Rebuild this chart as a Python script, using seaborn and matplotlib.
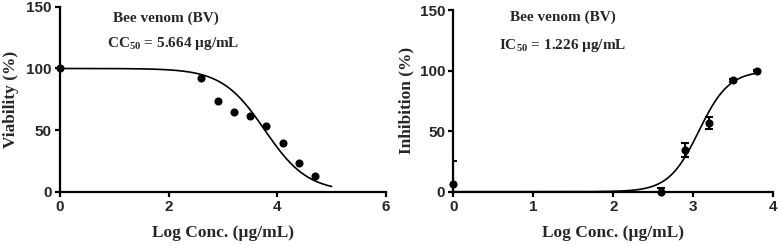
import numpy as np
import pandas as pd
import matplotlib
matplotlib.use("Agg")
import matplotlib.pyplot as plt
import seaborn as sns

# ---------------- data ----------------
# left: cytotoxicity (viability)
via_logc = [0.0, 2.6, 2.9, 3.2, 3.5, 3.8, 4.1, 4.4, 4.7]
via_pct = [100.0, 92.0, 74.0, 65.0, 61.5, 53.5, 39.5, 23.5, 12.5]
# fitted 4PL curve
via_top, via_bottom, via_logec50, via_hill = 100.0, 0.0, 3.77, 1.1
via_curve_range = (0.0, 5.0)

# right: inhibition
inh_logc = [0.0, 2.6, 2.9, 3.2, 3.5, 3.8]
inh_pct = [6.5, 0.0, 34.5, 57.0, 92.0, 100.0]
inh_err = [18.5, 3.0, 6.0, 5.0, 1.0, 0.5]
inh_top, inh_bottom, inh_logec50, inh_hill = 100.0, 0.0, 3.07, 2.3
inh_curve_range = (0.0, 3.8)

cc50_text = r"CC$_{50}$ = 5.664 µg/mL"
ic50_text = r"IC$_{50}$ = 1.226 µg/mL"
title_text = "Bee venom (BV)"


def four_pl(x, top, bottom, logec50, hill, rising):
    s = hill if rising else -hill
    return bottom + (top - bottom) / (1 + 10 ** ((logec50 - x) * s))


sns.set_style("ticks")
plt.rcParams["font.family"] = ["Liberation Sans", "DejaVu Sans"]
plt.rcParams["mathtext.fontset"] = "custom"
plt.rcParams["mathtext.rm"] = "Liberation Serif:bold"
plt.rcParams["mathtext.it"] = "Liberation Serif:bold"
plt.rcParams["mathtext.bf"] = "Liberation Serif:bold"

serif = {"family": "Liberation Serif", "weight": "bold"}

fig = plt.figure(figsize=(7.79, 2.45), dpi=100)
ax1 = fig.add_axes([0.077, 0.2175, 0.4185, 0.7545])
ax2 = fig.add_axes([0.582, 0.2175, 0.4105, 0.7415])

# ---- left panel ----
xc = np.linspace(*via_curve_range, 300)
curve1 = pd.DataFrame({"x": xc, "y": four_pl(xc, via_top, via_bottom, via_logec50, via_hill, False)})
sns.lineplot(data=curve1, x="x", y="y", ax=ax1, color="black", linewidth=1.2)
pts1 = pd.DataFrame({"x": via_logc, "y": via_pct})
sns.scatterplot(data=pts1, x="x", y="y", ax=ax1, color="black", s=34,
                edgecolor="black", linewidth=0, clip_on=False, zorder=5)
ax1.set_xlim(0, 6)
ax1.set_ylim(0, 150)
ax1.set_xticks([0, 2, 4, 6])
ax1.set_yticks([0, 50, 100, 150])
ax1.set_xlabel("Log Conc. (µg/mL)", fontdict=serif, fontsize=12.5, labelpad=8)
ax1.set_ylabel("Viability (%)", fontdict=serif, fontsize=12.5, labelpad=5)
ax1.text(1.95, 141, title_text, ha="center", va="center", fontdict=serif, fontsize=11)
ax1.text(2.08, 120, cc50_text, ha="center", va="center", fontdict=serif, fontsize=11)

# ---- right panel ----
xc2 = np.linspace(*inh_curve_range, 300)
curve2 = pd.DataFrame({"x": xc2, "y": four_pl(xc2, inh_top, inh_bottom, inh_logec50, inh_hill, True)})
sns.lineplot(data=curve2, x="x", y="y", ax=ax2, color="black", linewidth=1.2)
ax2.errorbar(inh_logc, inh_pct, yerr=inh_err, fmt="none", ecolor="black",
             elinewidth=1.5, capsize=3, capthick=1.5, zorder=4)
pts2 = pd.DataFrame({"x": inh_logc, "y": inh_pct})
sns.scatterplot(data=pts2, x="x", y="y", ax=ax2, color="black", s=34,
                edgecolor="black", linewidth=0, clip_on=False, zorder=5)
ax2.set_xlim(0, 4)
ax2.set_ylim(0, 150)
ax2.set_xticks([0, 1, 2, 3, 4])
ax2.set_yticks([0, 50, 100, 150])
ax2.set_xlabel("Log Conc. (µg/mL)", fontdict=serif, fontsize=12.5, labelpad=8)
ax2.set_ylabel("Inhibition (%)", fontdict=serif, fontsize=12.5, labelpad=4)
ax2.text(1.365, 144, title_text, ha="center", va="center", fontdict=serif, fontsize=11)
ax2.text(1.37, 121, ic50_text, ha="center", va="center", fontdict=serif, fontsize=11)

for ax in (ax1, ax2):
    sns.despine(ax=ax)
    for side in ("left", "bottom"):
        ax.spines[side].set_linewidth(1.6)
        ax.spines[side].set_color("black")
    ax.tick_params(axis="both", direction="out", length=3.5, width=1.6,
                   color="black", labelsize=11, pad=2.5)
    for lab in ax.get_xticklabels() + ax.get_yticklabels():
        lab.set_fontweight("bold")

fig.savefig("out.png", dpi=100)
plt.close(fig)
